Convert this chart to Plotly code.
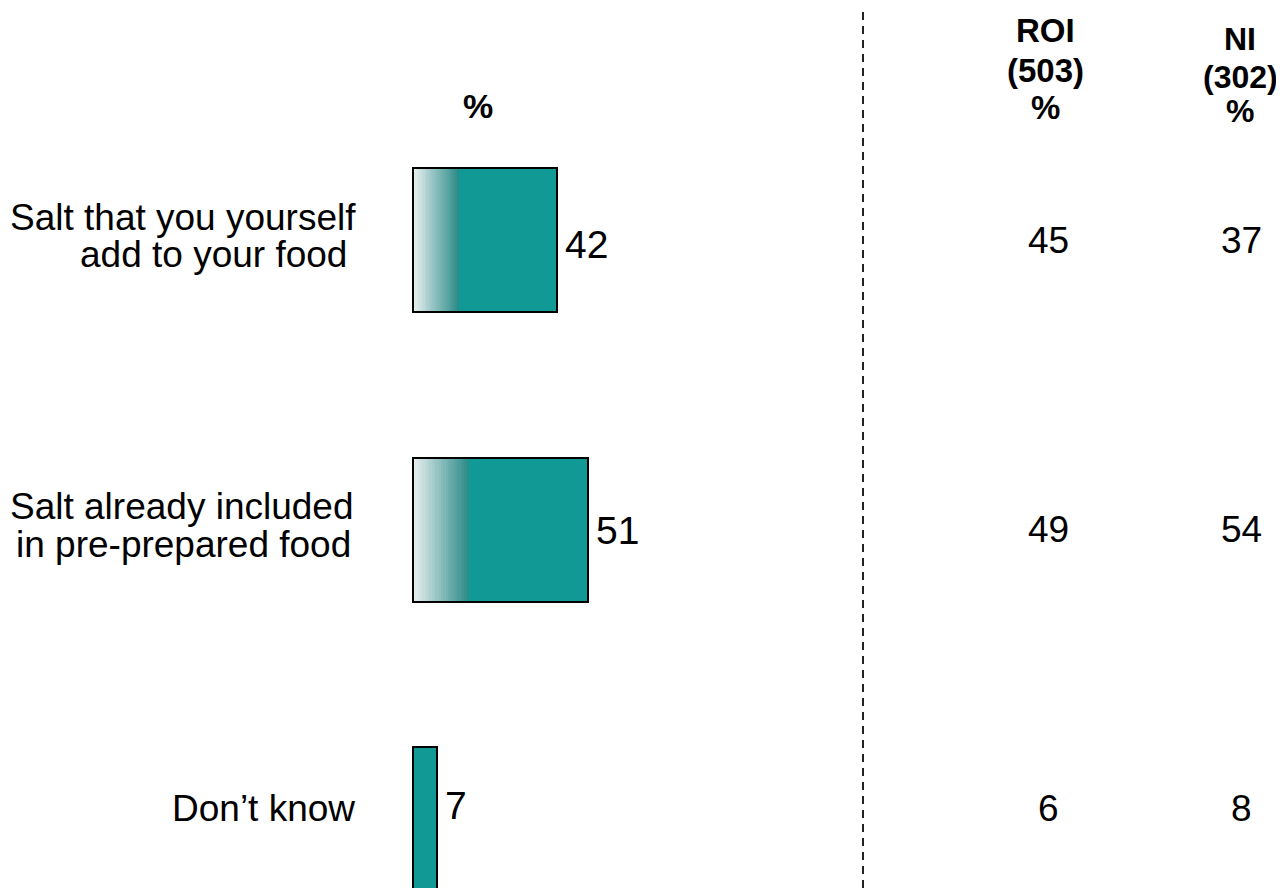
import plotly.graph_objects as go

# ---------------- data ----------------
categories = ["Salt that you yourself add to your food",
              "Salt already included in pre-prepared food",
              "Don't know"]
label_lines = [["Salt that you yourself", "add to your food"],
               ["Salt already included", "in pre-prepared food"],
               ["Don’t know"]]
values = [42, 51, 7]
roi_values = [45, 49, 6]
ni_values = [37, 54, 8]
roi_header = ["ROI", "(503)", "%"]
ni_header = ["NI", "(302)", "%"]
bar_header = "%"

# ---------------- style ----------------
OFF = 8                      # page body margin of the html page
W, H = 1284 - OFF, 888 - OFF
TEAL = (17, 153, 150)
GRAD_START = (230, 239, 239)
GRAD_END = (45, 140, 138)
GRAD_FRAC = 0.32
HAS_GRAD = [True, True, False]
N_STEPS = 24
FONT = "Liberation Sans, Arial, sans-serif"

X0_PX, X_SCALE = 413 - OFF, 3.43          # pixel of value 0, pixels per unit
Y0_PX, Y_STEP = 240 - OFF, 289.5           # pixel centre of first category, pixels per category
x_range = [-X0_PX / X_SCALE, (W - X0_PX) / X_SCALE]
y_range = [(H - Y0_PX) / Y_STEP, -Y0_PX / Y_STEP]
BAR_W = 144 / Y_STEP


def px(x):
    return (x - OFF) / W


def py(y):
    return 1 - (y - OFF) / H


def rgb(c):
    return "rgb(%d,%d,%d)" % tuple(int(round(v)) for v in c)


fig = go.Figure()

# gradient part (stacked thin segments)
for k in range(N_STEPS):
    t = k / (N_STEPS - 1)
    col = tuple(GRAD_START[i] + (GRAD_END[i] - GRAD_START[i]) * t for i in range(3))
    seg = [v * GRAD_FRAC / N_STEPS if g else 0 for v, g in zip(values, HAS_GRAD)]
    base = [v * GRAD_FRAC * k / N_STEPS if g else 0 for v, g in zip(values, HAS_GRAD)]
    fig.add_trace(go.Bar(y=categories, x=[s * 1.3 for s in seg], base=base,
                         orientation="h", width=BAR_W,
                         marker=dict(color=rgb(col), line=dict(width=0)),
                         hoverinfo="skip", showlegend=False))

# solid teal part
solid_base = [v * GRAD_FRAC if g else 0 for v, g in zip(values, HAS_GRAD)]
fig.add_trace(go.Bar(y=categories, x=[v - b for v, b in zip(values, solid_base)],
                     base=solid_base, orientation="h", width=BAR_W,
                     marker=dict(color=rgb(TEAL), line=dict(width=0)),
                     hoverinfo="skip", showlegend=False))

# outline
fig.add_trace(go.Bar(y=categories, x=values, base=[0] * len(values),
                     orientation="h", width=BAR_W,
                     marker=dict(color="rgba(0,0,0,0)", line=dict(color="black", width=2)),
                     hoverinfo="skip", showlegend=False))

annotations = []

# value labels next to bars
val_shift = [-4, -1, 14]
for cat, v, s in zip(categories, values, val_shift):
    annotations.append(dict(x=v, y=cat, xref="x", yref="y", text=str(v),
                            xanchor="left", yanchor="middle", xshift=6, yshift=s,
                            showarrow=False, font=dict(family=FONT, size=39, color="black")))

# category labels (separate lines for tight spacing)
line_shifts = [[23, -14], [23, -15], [11]]
line_x = [[358, 349], [356, 353], [357]]
for cat, lines, shifts, xs in zip(categories, label_lines, line_shifts, line_x):
    for ln, s, xp in zip(lines, shifts, xs):
        annotations.append(dict(x=px(xp), y=cat, xref="paper", yref="y", text=ln,
                                xanchor="right", yanchor="middle", yshift=s,
                                showarrow=False, font=dict(family=FONT, size=37, color="black")))

# right-hand columns
right_shift = [0, 0, 11]
for cat, r, n, s in zip(categories, roi_values, ni_values, right_shift):
    annotations.append(dict(x=px(1048), y=cat, xref="paper", yref="y", text=str(r),
                            xanchor="center", yanchor="middle", yshift=s,
                            showarrow=False, font=dict(family=FONT, size=37, color="black")))
    annotations.append(dict(x=px(1241), y=cat, xref="paper", yref="y", text=str(n),
                            xanchor="center", yanchor="middle", yshift=s,
                            showarrow=False, font=dict(family=FONT, size=37, color="black")))

# headers
annotations.append(dict(x=px(478), y=py(106), xref="paper", yref="paper", text="<b>%s</b>" % bar_header,
                        xanchor="center", yanchor="middle", showarrow=False,
                        font=dict(family=FONT, size=34, color="black")))
for txt, yp in zip(roi_header, [31, 71, 107]):
    annotations.append(dict(x=px(1045), y=py(yp), xref="paper", yref="paper", text="<b>%s</b>" % txt,
                            xanchor="center", yanchor="middle", showarrow=False,
                            font=dict(family=FONT, size=33, color="black")))
for txt, yp in zip(ni_header, [39, 77, 111]):
    annotations.append(dict(x=px(1240), y=py(yp), xref="paper", yref="paper", text="<b>%s</b>" % txt,
                            xanchor="center", yanchor="middle", showarrow=False,
                            font=dict(family=FONT, size=32, color="black")))

fig.update_layout(
    width=W, height=H,
    margin=dict(l=0, r=0, t=0, b=0),
    paper_bgcolor="white", plot_bgcolor="white",
    barmode="overlay", bargap=0,
    xaxis=dict(range=x_range, visible=False, fixedrange=True),
    yaxis=dict(range=y_range, visible=False, fixedrange=True,
               categoryorder="array", categoryarray=categories),
    annotations=annotations,
    shapes=[dict(type="line", xref="paper", yref="paper",
                 x0=px(863), x1=px(863), y0=0, y1=1,
                 line=dict(color="#222222", width=2, dash="8px,6px"))],
    showlegend=False,
)

fig.write_html("out.html")
